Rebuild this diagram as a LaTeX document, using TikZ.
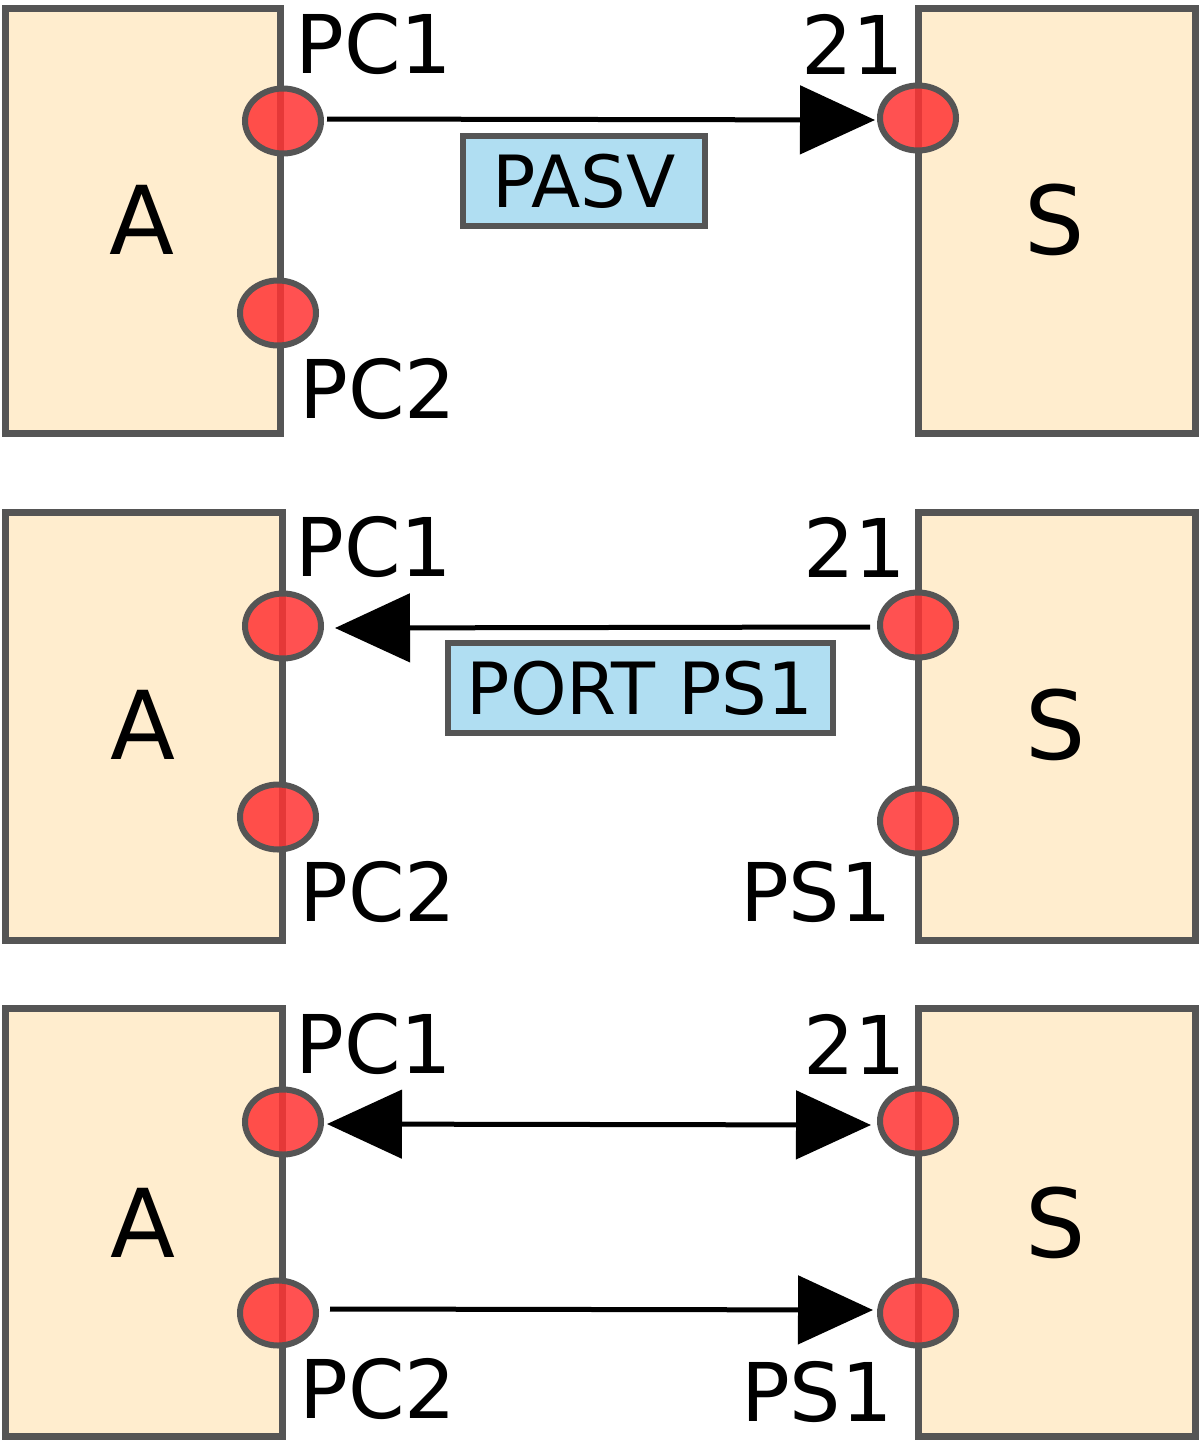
\documentclass[tikz,border=0pt]{standalone}
\usepackage{fontspec}
\setmainfont{DejaVu Sans}
\usetikzlibrary{arrows.meta,shapes.geometric}
\definecolor{boxf}{HTML}{FFEDCE}
\definecolor{edge}{HTML}{555555}
\definecolor{portf}{HTML}{FF3333}
\definecolor{lblf}{HTML}{B0DEF2}
\tikzset{
 hostbox/.style={draw=edge,line width=7pt,fill=boxf},
 port/.style={ellipse,draw=edge,line width=6pt,fill=portf,fill opacity=0.85,draw opacity=1,minimum width=76pt,minimum height=65pt,inner sep=0pt},
 plbl/.style={font=\fontsize{81}{81}\selectfont,inner sep=0pt},
 big/.style={font=\fontsize{95}{95}\selectfont,inner sep=0pt},
 conn/.style={line width=5pt,-{Triangle[length=75pt,width=68pt]}},
 conn2/.style={line width=5pt,{Triangle[length=75pt,width=68pt]}-{Triangle[length=75pt,width=68pt]}},
}
\begin{document}
\begin{tikzpicture}[x=1pt,y=-1pt]
\useasboundingbox (0,0) rectangle (1200,1441);
% panel 1
\draw[hostbox] (5,8) rectangle (280,433);
\draw[hostbox] (918,8) rectangle (1195,433);
\node[big] at (142,220) {A};
\node[big] at (1055,220) {S};
\draw[conn] (327,119) -- (875,120);
\node[port] (a1) at (283,121) {};
\node[port] (a2) at (278,313) {};
\node[port] (s1) at (918,118) {};
\node[plbl] at (374,44) {PC1};
\node[plbl] at (853,44) {21};
\node[plbl] at (378,389) {PC2};
\node[draw=edge,line width=6pt,fill=lblf,minimum width=242pt,minimum height=90pt,inner sep=0pt,font=\fontsize{72}{72}\selectfont] (m1) at (584,181) {PASV};
% panel 2
\draw[hostbox] (5,512) rectangle (282,940);
\draw[hostbox] (918,512) rectangle (1195,940);
\node[big] at (143,725) {A};
\node[big] at (1056,725) {S};
\draw[conn] (870,627) -- (335,628);
\node[port] (b1) at (283,626) {};
\node[port] (b2) at (278,817) {};
\node[port] (t1) at (918,625) {};
\node[port] (t2) at (918,821) {};
\node[plbl] at (374,547) {PC1};
\node[plbl] at (855,547) {21};
\node[plbl] at (378,892) {PC2};
\node[plbl] at (816,892) {PS1};
\node[draw=edge,line width=6pt,fill=lblf,minimum width=385pt,minimum height=90pt,inner sep=0pt,font=\fontsize{72}{72}\selectfont] (m2) at (640,688) {PORT PS1};
% panel 3
\draw[hostbox] (5,1008) rectangle (282,1436);
\draw[hostbox] (918,1008) rectangle (1195,1436);
\node[big] at (143,1223) {A};
\node[big] at (1056,1223) {S};
\draw[conn2] (327,1124) -- (871,1125);
\draw[conn] (330,1309) -- (873,1310);
\node[port] (c1) at (283,1122) {};
\node[port] (c2) at (278,1313) {};
\node[port] (u1) at (918,1121) {};
\node[port] (u2) at (918,1313) {};
\node[plbl] at (374,1044) {PC1};
\node[plbl] at (855,1044) {21};
\node[plbl] at (378,1389) {PC2};
\node[plbl] at (817,1392) {PS1};
\end{tikzpicture}
\end{document}
